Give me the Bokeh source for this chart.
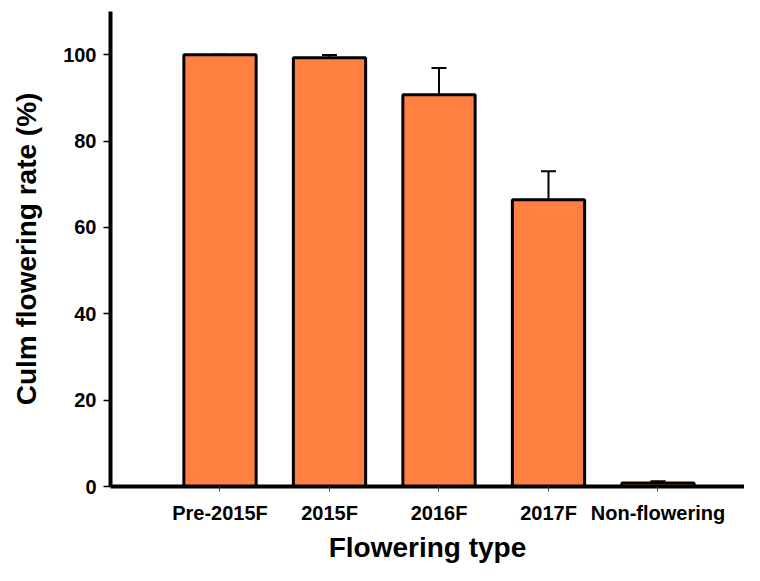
from bokeh.plotting import figure
from bokeh.models import ColumnDataSource, Range1d, FixedTicker, Whisker, TeeHead
from bokeh.embed import file_html
from bokeh.resources import INLINE

categories = ["Pre-2015F", "2015F", "2016F", "2017F", "Non-flowering"]
rate = [100.0, 99.3, 90.7, 66.4, 0.8]
rate_err = [0.0, 0.6, 6.2, 6.6, 0.4]
y_ticks = [0, 20, 40, 60, 80, 100]

xs = list(range(1, len(categories) + 1))
src = ColumnDataSource(dict(
    x=xs,
    top=rate,
    lower=rate,
    upper=[r + e for r, e in zip(rate, rate_err)],
))

FONT = "Liberation Sans"

p = figure(width=744, height=565, x_range=Range1d(0, 5.79), y_range=Range1d(0, 110),
           output_backend="svg", toolbar_location=None,
           min_border_left=110, min_border_right=0, min_border_top=11, min_border_bottom=77)
p.outline_line_color = None
p.xgrid.visible = False
p.ygrid.visible = False
p.background_fill_color = "white"
p.border_fill_color = "white"

p.vbar(x="x", top="top", bottom=0, width=0.66, source=src,
       fill_color="#FF8040", line_color="black", line_width=3)

wh = Whisker(base="x", lower="lower", upper="upper", source=src,
             lower_head=None, upper_head=TeeHead(size=15, line_width=2, line_color="black"),
             line_width=2, line_color="black", level="overlay")
p.add_layout(wh)

# x axis
xa = p.xaxis[0]
xa.ticker = FixedTicker(ticks=xs)
xa.major_label_overrides = {x: c for x, c in zip(xs, categories)}
xa.axis_line_width = 4
xa.axis_line_color = "black"
xa.major_tick_out = 5
xa.major_tick_in = 0
xa.major_tick_line_width = 1
xa.major_tick_line_color = "#444444"
xa.minor_tick_line_color = None
xa.major_label_standoff = 10
xa.major_label_text_font = FONT
xa.major_label_text_font_style = "bold"
xa.major_label_text_font_size = "20px"
xa.major_label_text_color = "black"
xa.axis_label = "Flowering type"
xa.axis_label_text_font = FONT
xa.axis_label_text_font_style = "bold"
xa.axis_label_text_font_size = "28px"
xa.axis_label_text_color = "black"
xa.axis_label_standoff = 5

# y axis
ya = p.yaxis[0]
ya.ticker = FixedTicker(ticks=y_ticks)
ya.axis_line_width = 4
ya.axis_line_color = "black"
ya.major_tick_out = 7
ya.major_tick_in = 0
ya.major_tick_line_width = 1.5
ya.major_tick_line_color = "black"
ya.minor_tick_line_color = None
ya.major_label_standoff = 7
ya.major_label_text_font = FONT
ya.major_label_text_font_style = "bold"
ya.major_label_text_font_size = "20px"
ya.major_label_text_color = "black"
ya.axis_label = "Culm flowering rate (%)"
ya.axis_label_text_font = FONT
ya.axis_label_text_font_style = "bold"
ya.axis_label_text_font_size = "28px"
ya.axis_label_text_color = "black"
ya.axis_label_standoff = 18

open("out.html", "w").write(file_html(p, INLINE))
